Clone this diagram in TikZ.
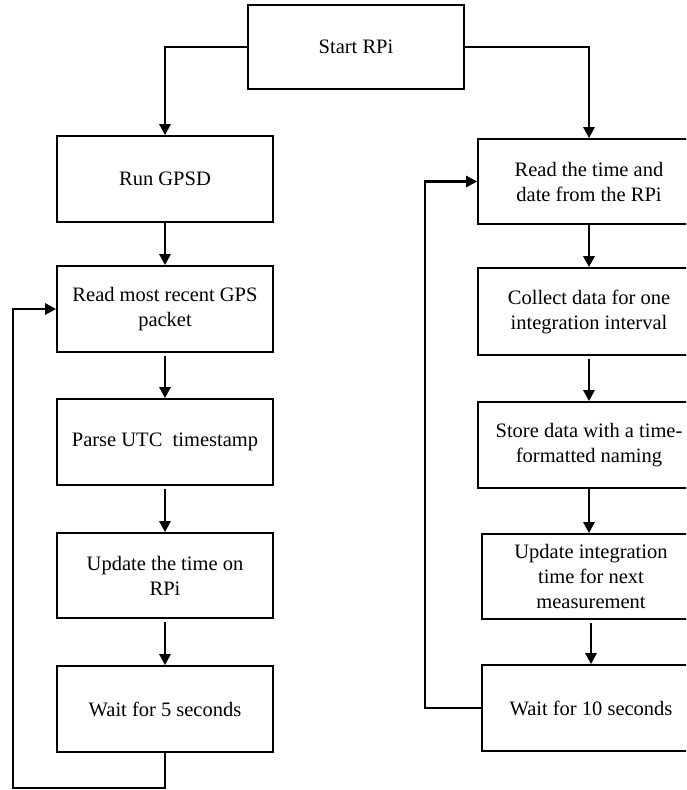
\documentclass[tikz,border=0pt]{standalone}
\usepackage{fontspec}
\setmainfont{Liberation Serif}
\usetikzlibrary{arrows.meta}
\begin{document}
\begin{tikzpicture}[x=1pt,y=-1pt,
  box/.style={draw=black, line width=1.7pt, rectangle, inner sep=0pt, align=center,
    font=\fontsize{20.5}{25}\selectfont, text=black},
  lbox/.style={box, minimum width=216pt, minimum height=86pt},
  rbox/.style={box, minimum width=222pt, minimum height=86pt},
  arr/.style={line width=2.6pt, -{Triangle[length=11pt,width=11pt]}},
  ln/.style={line width=2.6pt}]
\useasboundingbox (0,0) rectangle (686,790);
\clip (0,0) rectangle (686,790);
\fill[white] (0,0) rectangle (686,790);
% start
\node[lbox, minimum height=84pt] (start) at (356,47) {Start RPi};
% left column
\node[lbox] (gpsd) at (165,179) {Run GPSD};
\node[lbox] (readgps) at (165,309) {Read most recent GPS\\packet};
\node[lbox] (parse) at (165,442) {Parse UTC~ timestamp};
\node[lbox, minimum height=85pt] (update) at (165,575.5) {Update the time on\\RPi};
\node[lbox] (wait5) at (165,709) {Wait for 5 seconds};
% right column
\node[rbox, minimum height=85pt] (readtime) at (589,181.5) {Read the time and\\date from the RPi};
\node[rbox, minimum height=87pt] (collect) at (589,311.5) {Collect data for one\\integration interval};
\node[rbox] (store) at (589,445) {Store data with a time-\\formatted naming};
\node[rbox, minimum width=218pt, minimum height=85pt] (updint) at (591,576.5) {Update integration\\time for next\\measurement};
\node[rbox, minimum width=218pt] (wait10) at (591,708) {Wait for 10 seconds};
% connectors
\draw[arr] (start.west) -| (gpsd.north);
\draw[arr] (start.east) -| (readtime.north);
\draw[arr] (gpsd.south) -- (readgps.north);
\draw[arr, shorten <=3pt] (readgps.south) -- (parse.north);
\draw[arr, shorten <=3pt] (parse.south) -- (update.north);
\draw[arr, shorten <=3pt] (update.south) -- (wait5.north);
\draw[arr] (readtime.south) -- (collect.north);
\draw[arr, shorten <=3pt] (collect.south) -- (store.north);
\draw[arr] (store.south) -- (store.south |- updint.north);
\draw[arr, shorten <=3pt] (updint.south) -- (wait10.north);
\coordinate (lp) at (13,788);
\coordinate (rp) at (425,708);
\draw[arr] (wait5.south) |- (lp) |- (readgps.west);
\draw[arr] (wait10.west) -- (rp) |- (readtime.west);
\end{tikzpicture}
\end{document}
